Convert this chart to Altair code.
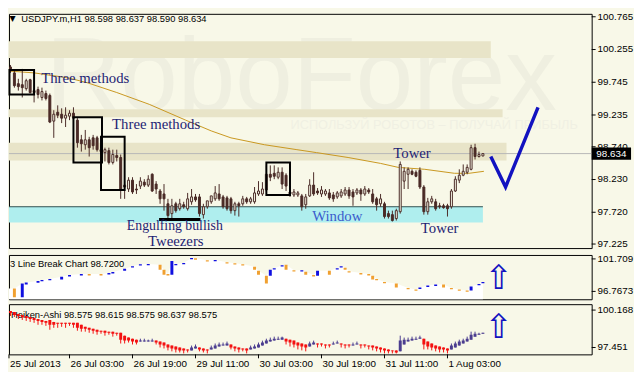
import altair as alt
import pandas as pd

# ---------------- colours ----------------
BG = "#f8f8e8"
CANDLE = "#4a2b27"
GOLD = "#c8961e"
NAVY = "#1e1e74"
WINDOW_BLUE = "#3a5ccc"
KHAKI = "#e8e4c8"
TURQ = "#afeeee"
CHECK_BLUE = "#1212c0"
UP_BRICK = "#1010e0"
DOWN_BRICK = "#f0a030"
HA_BLUE = "#4b3d8f"
HA_RED = "#f41010"
WM_COLOR = "#efefe0"
WM_SUB_COLOR = "#f0f0e3"
SANS = "Liberation Sans"
SERIF = "Liberation Serif"

# ---------------- main panel: USDJPY H1 candles ----------------
BAR = list(range(122))
OPEN = [100.014, 99.983, 99.891, 99.723, 99.707, 99.646, 99.784, 99.615, 99.631, 99.508,
        99.569, 99.539, 99.140, 99.278, 99.247, 99.186, 99.217, 99.263, 99.155, 98.849,
        98.772, 98.849, 98.879, 98.879, 98.665, 98.649, 98.680, 98.496, 98.603, 98.573,
        98.113, 98.082, 98.220, 98.082, 98.128, 98.189, 98.143, 98.312, 98.159, 98.051,
        98.005, 97.852, 97.699, 97.852, 97.775, 97.837, 97.775, 97.883, 97.959, 97.959,
        97.683, 97.806, 97.883, 97.929, 98.005, 97.959, 97.944, 97.929, 97.745, 97.852,
        97.852, 97.929, 97.883, 97.883, 98.005, 98.005, 98.067, 98.312, 98.327, 98.266,
        98.343, 98.297, 98.036, 97.990, 97.990, 97.975, 97.837, 97.975, 98.143, 98.051,
        98.005, 98.005, 98.021, 97.990, 97.959, 97.975, 98.005, 98.067, 98.036, 98.021,
        98.067, 98.005, 98.067, 98.005, 97.929, 97.852, 97.852, 97.699, 97.683, 97.622,
        97.729, 98.205, 98.312, 98.358, 98.343, 98.373, 98.113, 97.729, 97.883, 97.883,
        97.821, 97.821, 97.821, 97.806, 98.051, 98.220, 98.297, 98.343, 98.389, 98.726,
        98.588, 98.598]
HIGH = [100.045, 100.014, 99.922, 99.799, 99.953, 99.799, 99.799, 99.646, 99.677, 99.661,
        99.615, 99.569, 99.309, 99.385, 99.339, 99.355, 99.309, 99.355, 99.186, 98.925,
        99.002, 98.895, 98.925, 98.910, 98.772, 98.726, 98.726, 98.695, 98.695, 98.619,
        98.205, 98.266, 98.266, 98.159, 98.266, 98.235, 98.297, 98.327, 98.205, 98.082,
        98.159, 97.929, 97.929, 97.883, 97.929, 97.883, 98.021, 98.082, 98.005, 98.005,
        97.852, 97.867, 97.959, 98.128, 98.159, 97.990, 97.975, 97.959, 97.883, 97.883,
        97.975, 97.959, 97.959, 98.113, 98.205, 98.189, 98.450, 98.450, 98.450, 98.419,
        98.419, 98.327, 98.128, 98.082, 98.051, 98.005, 98.005, 98.235, 98.343, 98.097,
        98.128, 98.082, 98.082, 98.036, 98.051, 98.082, 98.113, 98.113, 98.082, 98.097,
        98.097, 98.128, 98.097, 98.082, 97.959, 98.005, 97.883, 97.745, 97.745, 97.775,
        98.511, 98.419, 98.419, 98.389, 98.373, 98.419, 98.143, 97.944, 97.975, 97.929,
        97.867, 97.852, 97.852, 98.082, 98.281, 98.389, 98.465, 98.465, 98.772, 98.787,
        98.665, 98.637]
LOW = [99.891, 99.891, 99.661, 99.615, 99.508, 99.615, 99.569, 99.431, 99.493, 99.462,
       99.462, 99.109, 98.879, 99.186, 99.109, 99.048, 99.155, 99.155, 98.726, 98.665,
       98.695, 98.588, 98.695, 98.665, 98.619, 98.511, 98.465, 98.465, 98.511, 97.929,
       97.929, 98.036, 98.005, 98.005, 98.082, 98.113, 98.113, 98.036, 98.005, 97.852,
       97.745, 97.622, 97.622, 97.714, 97.745, 97.775, 97.745, 97.837, 97.883, 97.653,
       97.622, 97.775, 97.852, 97.898, 97.898, 97.775, 97.745, 97.699, 97.668, 97.653,
       97.821, 97.852, 97.852, 97.852, 97.975, 97.975, 98.036, 98.205, 98.235, 98.235,
       98.082, 98.051, 97.959, 97.959, 97.959, 97.745, 97.775, 97.959, 97.975, 97.990,
       97.959, 97.975, 97.913, 97.883, 97.929, 97.944, 97.975, 97.929, 97.821, 97.990,
       97.898, 97.975, 98.005, 97.852, 97.745, 97.806, 97.622, 97.622, 97.576, 97.591,
       97.699, 98.082, 98.082, 98.297, 98.266, 98.082, 97.683, 97.683, 97.852, 97.745,
       97.775, 97.775, 97.653, 97.775, 98.036, 98.174, 98.281, 98.312, 98.373, 98.542,
       98.573, 98.590]
CLOSE = [99.922, 99.922, 99.692, 99.677, 99.661, 99.769, 99.585, 99.585, 99.554, 99.600,
         99.493, 99.125, 99.247, 99.232, 99.186, 99.232, 99.263, 99.186, 98.803, 98.787,
         98.849, 98.726, 98.757, 98.695, 98.695, 98.695, 98.496, 98.619, 98.573, 98.082,
         98.143, 98.220, 98.036, 98.067, 98.205, 98.143, 98.235, 98.051, 98.082, 97.929,
         97.929, 97.668, 97.821, 97.745, 97.852, 97.806, 97.929, 97.959, 97.913, 97.699,
         97.806, 97.898, 97.975, 98.021, 97.929, 97.806, 97.775, 97.745, 97.852, 97.821,
         97.929, 97.883, 97.929, 98.021, 98.051, 98.082, 98.312, 98.266, 98.281, 98.343,
         98.159, 98.128, 98.005, 98.036, 98.021, 97.806, 97.959, 98.143, 98.005, 98.021,
         98.067, 98.051, 97.944, 97.929, 98.021, 98.036, 98.067, 97.975, 97.959, 98.067,
         98.005, 98.082, 98.036, 97.883, 97.837, 97.929, 97.653, 97.653, 97.591, 97.745,
         98.465, 98.358, 98.389, 98.312, 98.281, 98.113, 97.729, 97.883, 97.929, 97.775,
         97.806, 97.791, 97.775, 98.051, 98.235, 98.297, 98.358, 98.419, 98.726, 98.588,
         98.619, 98.634]

MA_BAR = [0, 7, 15.5, 20.5, 28, 36.25, 45.5, 52, 57, 65.5, 73.75, 78.75, 86.75, 95, 99.5,
          106.25, 113.75, 117.5, 121.25]
MA_VALUE = [99.922, 99.891, 99.815, 99.738, 99.585, 99.401, 99.155, 98.987, 98.879, 98.772,
            98.695, 98.649, 98.573, 98.481, 98.419, 98.389, 98.327, 98.327, 98.358]

Y_TICKS = [97.225, 97.72, 98.23, 98.74, 99.235, 99.745, 100.255, 100.765]
LAST_PRICE = 98.634
TAG_HALF = 0.095

# resistance / support zones
BAND_X0 = [-0.625, -0.625, -0.625]
BAND_X1 = [123.0, 126.0, 127.0]
BAND_LO = [100.121, 99.201, 98.527]
BAND_HI = [100.382, 99.324, 98.803]
WINDOW_X0 = [-0.625]
WINDOW_X1 = [121.0]
WINDOW_LO = [97.561]
WINDOW_HI = [97.806]

# pattern boxes
BOX_X0 = [0.75, 17.0, 24.0, 66.0]
BOX_X1 = [7.0, 24.25, 30.0, 72.0]
BOX_LO = [99.554, 98.496, 98.067, 97.990]
BOX_HI = [99.937, 99.201, 98.895, 98.496]
TWEEZER_X0 = [38.75]
TWEEZER_X1 = [49.25]
TWEEZER_P = [97.607]

# forecast check mark
CHECK_BAR = [123.0, 126.75, 135.0]
CHECK_PRICE = [98.588, 98.113, 99.355]

ANN_TEXT = ["Three methods", "Three methods", "Tower", "Window", "Engulfing bullish", "Tweezers", "Tower"]
ANN_BAR = [20.0, 38.0, 103.0, 84.0, 42.75, 43.0, 110.0]
ANN_PRICE = [99.815, 99.086, 98.649, 97.66, 97.499, 97.265, 97.469]
ANN_SIZE = [15, 15, 15, 15, 14, 15, 15]
ANN_COLOR = [NAVY, NAVY, NAVY, WINDOW_BLUE, NAVY, NAVY, NAVY]

MAIN_TITLE = "USDJPY.m,H1  98.598 98.637 98.590 98.634"
WATERMARK = "RoboForex"
WATERMARK_SUB = "ИСПОЛЬЗУЙ РОБОТОВ – ПОЛУЧАЙ ПРИБЫЛЬ"

# ---------------- 3 Line Break panel ----------------
LB_TITLE = "3 Line Break Chart 98.7200"
BRICK_BAR = [0, 2, 4, 5, 8, 9, 11, 14, 16, 19, 21, 24, 26, 27, 30, 32, 34, 36, 39, 40, 41, 42,
             43, 45, 47, 48, 51, 53, 56, 58, 60, 63, 64, 66, 67, 68, 70, 71, 73, 75, 76, 78,
             79, 82, 84, 85, 86, 87, 90, 92, 93, 94, 96, 99, 102, 104, 105, 107, 109, 111,
             113, 115, 117, 118, 120, 121]
BRICK_LOW = [96.62, 95.87, 95.87, 97.82, 98.10, 98.30, 98.45, 98.56, 99.05, 99.20, 99.20,
             99.20, 99.35, 99.50, 99.91, 100.40, 100.70, 100.75, 100.06, 99.31, 99.20, 99.31,
             100.75, 100.90, 101.65, 101.60, 101.30, 101.35, 101.00, 100.85, 100.70, 100.06,
             99.31, 97.96, 99.16, 100.10, 100.55, 100.06, 99.80, 99.80, 99.31, 99.05, 99.16,
             99.31, 100.10, 100.40, 100.06, 99.65, 99.35, 99.20, 98.56, 98.45, 98.00, 97.37,
             97.10, 96.85, 97.15, 97.45, 97.60, 97.37, 97.10, 96.85, 96.70, 96.92, 97.70, 98.00]
BRICK_HIGH = [97.22, 97.22, 97.96, 98.11, 98.35, 98.50, 98.65, 99.01, 99.25, 99.40, 99.40,
              99.40, 99.55, 99.70, 100.21, 100.60, 100.90, 100.95, 100.81, 100.06, 99.40,
              101.41, 100.95, 101.10, 101.85, 101.80, 101.50, 101.55, 101.20, 101.05, 100.90,
              100.51, 99.91, 99.16, 100.06, 100.30, 100.75, 100.81, 100.00, 100.00, 99.76,
              99.25, 99.91, 99.91, 100.30, 100.60, 100.36, 99.85, 99.55, 99.40, 99.16, 98.65,
              98.20, 97.96, 97.30, 97.05, 97.35, 97.65, 97.80, 97.82, 97.30, 97.05, 96.90,
              97.52, 97.90, 98.20]
BRICK_DIR = ["U", "D", "U", "U", "U", "U", "U", "U", "U", "U", "D", "D", "U", "U", "U", "U",
             "U", "U", "D", "D", "D", "U", "U", "U", "U", "D", "D", "U", "D", "D", "D", "D",
             "D", "D", "U", "U", "U", "D", "D", "U", "D", "D", "U", "D", "U", "U", "D", "D",
             "D", "D", "D", "D", "D", "D", "D", "D", "U", "U", "U", "D", "D", "D", "D", "U",
             "U", "U"]
LB_TICKS = [96.7673, 101.7097]
LB_LABELS = ["96.7673", "101.7097"]

# ---------------- Heiken-Ashi panel ----------------
HA_TITLE = "Heiken-Ashi 98.575 98.615 98.575 98.637 98.575"
HA_OPEN = [100.17, 100.10, 100.03, 99.88, 99.81, 99.74, 99.67, 99.60, 99.52, 99.45,
           99.38, 99.45, 99.31, 99.24, 99.24, 99.24, 99.24, 99.24, 99.24, 99.10,
           98.95, 98.88, 98.81, 98.74, 98.67, 98.67, 98.60, 98.60, 98.52, 98.52,
           98.31, 98.17, 98.09, 98.02, 97.88, 97.88, 97.88, 97.88, 97.95, 97.88,
           97.81, 97.67, 97.59, 97.52, 97.45, 97.38, 97.31, 97.24, 97.38, 97.45,
           97.38, 97.31, 97.31, 97.38, 97.52, 97.59, 97.59, 97.67, 97.52, 97.45,
           97.38, 97.38, 97.31, 97.38, 97.45, 97.59, 97.74, 97.88, 97.95, 98.02,
           98.02, 98.09, 98.02, 97.95, 97.81, 97.74, 97.67, 97.52, 97.67, 97.74,
           97.74, 97.67, 97.67, 97.67, 97.74, 97.74, 97.67, 97.67, 97.59, 97.67,
           97.67, 97.67, 97.59, 97.59, 97.52, 97.45, 97.38, 97.31, 97.24, 97.24,
           97.17, 97.67, 97.88, 97.95, 98.02, 98.09, 98.09, 97.88, 97.74, 97.59,
           97.52, 97.45, 97.38, 97.31, 97.45, 97.59, 97.74, 97.88, 98.02, 98.24,
           98.38, 98.45]
HA_CLOSE = [100.03, 99.95, 99.81, 99.74, 99.67, 99.60, 99.52, 99.45, 99.38, 99.31,
            99.24, 99.10, 99.10, 99.17, 99.17, 99.17, 99.17, 99.10, 98.88, 98.81,
            98.81, 98.74, 98.67, 98.60, 98.60, 98.52, 98.52, 98.45, 98.45, 98.02,
            97.95, 97.95, 97.88, 97.81, 97.95, 97.95, 97.95, 97.95, 97.81, 97.67,
            97.59, 97.45, 97.38, 97.31, 97.24, 97.24, 97.24, 97.45, 97.52, 97.31,
            97.24, 97.24, 97.45, 97.59, 97.67, 97.67, 97.74, 97.45, 97.38, 97.31,
            97.31, 97.24, 97.45, 97.52, 97.67, 97.81, 97.95, 98.02, 98.09, 98.09,
            98.17, 97.88, 97.81, 97.67, 97.59, 97.52, 97.45, 97.74, 97.81, 97.67,
            97.67, 97.59, 97.59, 97.74, 97.81, 97.67, 97.59, 97.59, 97.67, 97.74,
            97.59, 97.59, 97.52, 97.45, 97.38, 97.31, 97.24, 97.17, 97.17, 97.09,
            97.95, 98.02, 98.02, 98.09, 98.09, 98.17, 97.67, 97.52, 97.45, 97.38,
            97.31, 97.31, 97.24, 97.59, 97.74, 97.88, 97.95, 98.09, 98.38, 98.45,
            98.45, 98.52]
HA_HIGH = [100.17, 100.10, 100.03, 99.88, 99.81, 99.74, 99.67, 99.60, 99.52, 99.45,
           99.38, 99.45, 99.31, 99.24, 99.24, 99.24, 99.24, 99.24, 99.24, 99.10,
           98.95, 98.88, 98.81, 98.74, 98.67, 98.67, 98.60, 98.60, 98.52, 98.52,
           98.31, 98.17, 98.09, 98.02, 98.09, 98.09, 98.02, 98.09, 97.95, 97.88,
           97.81, 97.67, 97.59, 97.52, 97.45, 97.38, 97.31, 97.59, 97.67, 97.45,
           97.38, 97.31, 97.59, 97.74, 97.81, 97.81, 97.88, 97.67, 97.52, 97.45,
           97.38, 97.38, 97.59, 97.67, 97.81, 97.95, 98.09, 98.17, 98.24, 98.24,
           98.24, 98.09, 98.02, 97.95, 97.81, 97.74, 97.67, 97.88, 97.95, 97.74,
           97.74, 97.67, 97.67, 97.88, 97.95, 97.74, 97.67, 97.67, 97.81, 97.88,
           97.67, 97.67, 97.59, 97.59, 97.52, 97.45, 97.38, 97.31, 97.24, 97.24,
           98.31, 98.17, 98.17, 98.24, 98.24, 98.31, 98.09, 97.88, 97.74, 97.59,
           97.52, 97.45, 97.38, 97.74, 97.88, 98.02, 98.09, 98.24, 98.60, 98.60,
           98.52, 98.52]
HA_LOW = [99.88, 99.74, 99.67, 99.52, 99.45, 99.38, 99.31, 99.24, 99.10, 99.10,
          99.02, 98.74, 98.88, 98.88, 98.95, 98.88, 99.02, 98.88, 98.67, 98.60,
          98.60, 98.52, 98.45, 98.38, 98.45, 98.31, 98.38, 98.24, 98.31, 97.74,
          97.74, 97.81, 97.67, 97.67, 97.88, 97.88, 97.88, 97.88, 97.67, 97.45,
          97.38, 97.24, 97.17, 97.09, 97.09, 97.02, 97.09, 97.24, 97.38, 97.17,
          97.09, 97.02, 97.31, 97.38, 97.52, 97.59, 97.59, 97.31, 97.17, 97.09,
          97.17, 97.02, 97.31, 97.38, 97.45, 97.59, 97.74, 97.88, 97.95, 98.02,
          98.02, 97.67, 97.52, 97.45, 97.31, 97.24, 97.17, 97.52, 97.67, 97.45,
          97.52, 97.38, 97.45, 97.67, 97.74, 97.45, 97.38, 97.45, 97.59, 97.67,
          97.38, 97.45, 97.31, 97.24, 97.17, 97.09, 97.02, 97.02, 97.02, 97.02,
          97.17, 97.67, 97.88, 97.95, 98.02, 98.09, 97.31, 97.31, 97.24, 97.17,
          97.09, 97.09, 97.02, 97.31, 97.45, 97.59, 97.74, 97.88, 98.02, 98.24,
          98.38, 98.45]
HA_TICKS = [97.451, 100.168]
HA_LABELS = ["97.451", "100.168"]

# up arrows in the indicator panels
ARROW_BAR = [125.0]
ARROW_LB = [98.565]
ARROW_HA = [98.88]

# time axis
TICK_BAR = [0, 16, 32, 48, 64, 80, 96, 112]
TICK_LABEL = ["25 Jul 2013", "26 Jul 03:00", "26 Jul 19:00", "29 Jul 11:00",
              "30 Jul 03:00", "30 Jul 19:00", "31 Jul 11:00", "1 Aug 03:00"]

# ---------------- scales ----------------
W = 592
X_MIN = 0.625
XS = alt.Scale(domain=[X_MIN, 148.625], nice=False, zero=False, padding=0)
Y1S = alt.Scale(domain=[97.162, 100.811], nice=False, zero=False, padding=0)
Y2S = alt.Scale(domain=[95.57, 102.31], nice=False, zero=False, padding=0)
Y3S = alt.Scale(domain=[96.95, 100.597], nice=False, zero=False, padding=0)


def xq(f):
    return alt.X(f, type="quantitative", scale=XS, axis=None)


def y1(f):
    return alt.Y(f, type="quantitative", scale=Y1S, axis=None)


def y2(f):
    return alt.Y(f, type="quantitative", scale=Y2S, axis=None)


def y3(f):
    return alt.Y(f, type="quantitative", scale=Y3S, axis=None)


def right_ticks(values, yfun):
    return alt.Chart(pd.DataFrame({"v": values})).mark_rule(color="black").encode(
        x=alt.value(592), x2=alt.value(596), y=yfun("v"))


def right_labels(values, labels, yfun, **kw):
    return alt.Chart(pd.DataFrame({"v": values, "t": labels})).mark_text(
        font=SANS, fontSize=10, color="black", align="left", baseline="middle", **kw).encode(
        x=alt.value(598), y=yfun("v"), text="t:N")


candles = pd.DataFrame({"i": BAR, "o": OPEN, "h": HIGH, "l": LOW, "c": CLOSE})
candles["fillc"] = [BG if c >= o else CANDLE for o, c in zip(OPEN, CLOSE)]

# ---------------- panel 1 ----------------
wm = alt.Chart(pd.DataFrame({"t": [WATERMARK]})).mark_text(
    font=SANS, fontSize=105, color=WM_COLOR, align="center", baseline="middle"
).encode(x=alt.value(297), y=alt.value(66), text="t:N")
wm2 = alt.Chart(pd.DataFrame({"t": [WATERMARK_SUB]})).mark_text(
    font=SANS, fontSize=13, color=WM_SUB_COLOR, align="center", baseline="middle"
).encode(x=alt.value(432), y=alt.value(113), text="t:N")

bands = alt.Chart(pd.DataFrame({"x0": BAND_X0, "x1": BAND_X1, "lo": BAND_LO, "hi": BAND_HI})).mark_rect(
    color=KHAKI, clip=True).encode(x=xq("x0"), x2="x1", y=y1("lo"), y2="hi")
price_line = alt.Chart(pd.DataFrame({"p": [LAST_PRICE]})).mark_rule(color="#b8b8b8").encode(y=y1("p"))
win_df = pd.DataFrame({"x0": WINDOW_X0, "x1": WINDOW_X1, "lo": WINDOW_LO, "hi": WINDOW_HI})
window = alt.Chart(win_df).mark_rect(color=TURQ, clip=True).encode(x=xq("x0"), x2="x1", y=y1("lo"), y2="hi")
window_line = alt.Chart(win_df).mark_rule(color="#2f4f4f", strokeWidth=1, clip=True).encode(
    x=xq("x0"), x2="x1", y=y1("hi"))

ma = alt.Chart(pd.DataFrame({"i": MA_BAR, "v": MA_VALUE})).mark_line(color=GOLD, strokeWidth=1, clip=True).encode(
    x=xq("i"), y=y1("v"))

wicks = alt.Chart(candles).mark_rule(color=CANDLE, strokeWidth=1, clip=True).encode(
    x=xq("i"), y=y1("l"), y2="h")
bodies = alt.Chart(candles).mark_bar(size=2, stroke=CANDLE, strokeWidth=1, clip=True).encode(
    x=xq("i"), y=y1("o"), y2="c", fill=alt.Fill("fillc:N", scale=None))

boxes = alt.Chart(pd.DataFrame({"x0": BOX_X0, "x1": BOX_X1, "lo": BOX_LO, "hi": BOX_HI})).mark_rect(
    fillOpacity=0, stroke="black", strokeWidth=2).encode(x=xq("x0"), x2="x1", y=y1("lo"), y2="hi")
tweezer = alt.Chart(pd.DataFrame({"x0": TWEEZER_X0, "x1": TWEEZER_X1, "p": TWEEZER_P})).mark_rule(
    color="black", strokeWidth=3).encode(x=xq("x0"), x2="x1", y=y1("p"))
check = alt.Chart(pd.DataFrame({"i": CHECK_BAR, "p": CHECK_PRICE, "k": [0, 1, 2]})).mark_line(
    color=CHECK_BLUE, strokeWidth=3.5).encode(x=xq("i"), y=y1("p"), order="k:O")

ann = alt.Chart(pd.DataFrame({"t": ANN_TEXT, "i": ANN_BAR, "p": ANN_PRICE, "fs": ANN_SIZE, "col": ANN_COLOR})).mark_text(
    font=SERIF, align="center", baseline="middle").encode(
    x=xq("i"), y=y1("p"), text="t:N", size=alt.Size("fs:Q", scale=None),
    color=alt.Color("col:N", scale=None))

tri = alt.Chart(pd.DataFrame({"t": ["▼"]})).mark_text(
    font="DejaVu Sans", fontSize=8, color="black", align="center", baseline="middle").encode(
    x=alt.value(3.5), y=alt.value(5), text="t:N")
title1 = alt.Chart(pd.DataFrame({"t": [MAIN_TITLE]})).mark_text(
    font=SANS, fontSize=9.5, color="black", align="left", baseline="middle").encode(
    x=alt.value(12.5), y=alt.value(5), text="t:N")

p1_ticks = right_ticks(Y_TICKS, y1)
p1_labels = right_labels(Y_TICKS, [f"{v:.3f}" for v in Y_TICKS], y1)

tag_df = pd.DataFrame({"p": [LAST_PRICE], "top": [LAST_PRICE + TAG_HALF], "bot": [LAST_PRICE - TAG_HALF],
                       "t": [f"{LAST_PRICE:.3f}"]})
tag_rect = alt.Chart(tag_df).mark_rect(color="black").encode(
    x=alt.value(592), x2=alt.value(632), y=y1("top"), y2="bot")
tag_text = alt.Chart(tag_df).mark_text(font=SANS, fontSize=10, color="white", align="center", baseline="middle").encode(
    x=alt.value(612), y=y1("p"), text="t:N")

panel1 = alt.layer(wm, wm2, bands, price_line, window, window_line, ma, wicks, bodies, boxes, tweezer,
                   check, ann, tri, title1, p1_ticks, p1_labels, tag_rect, tag_text).properties(width=W, height=238)

# ---------------- panel 2 ----------------
bricks = pd.DataFrame({"i": BRICK_BAR, "lo": BRICK_LOW, "hi": BRICK_HIGH, "dir": BRICK_DIR})
bricks["col"] = [UP_BRICK if d == "U" else DOWN_BRICK for d in BRICK_DIR]
lb_area = alt.Chart(bricks).mark_area(color="white", interpolate="linear", clip=True).encode(
    x=xq("i"), y=y2("hi"), y2=alt.value(45))
lb_bricks = alt.Chart(bricks).mark_bar(size=3, clip=True).encode(
    x=xq("i"), y=y2("lo"), y2="hi", color=alt.Color("col:N", scale=None))
lb_title = alt.Chart(pd.DataFrame({"t": [LB_TITLE]})).mark_text(
    font=SANS, fontSize=9.5, color="black", align="left", baseline="middle").encode(
    x=alt.value(1), y=alt.value(9), text="t:N")
lb_ticks = right_ticks(LB_TICKS, y2)
lb_labels = right_labels(LB_TICKS, LB_LABELS, y2, limit=37, ellipsis="\u200b")
lb_arrow = alt.Chart(pd.DataFrame({"i": ARROW_BAR, "p": ARROW_LB, "t": ["⇧"]})).mark_text(
    font="DejaVu Sans", fontSize=34, color=CHECK_BLUE, align="center", baseline="middle").encode(
    x=xq("i"), y=y2("p"), text="t:N")
panel2 = alt.layer(lb_area, lb_title, lb_bricks, lb_ticks, lb_labels, lb_arrow).properties(width=W, height=45)

# ---------------- panel 3 ----------------
ha = pd.DataFrame({"i": BAR, "o": HA_OPEN, "c": HA_CLOSE, "h": HA_HIGH, "l": HA_LOW})
ha["col"] = [HA_BLUE if c > o else HA_RED for o, c in zip(HA_OPEN, HA_CLOSE)]
ha_title = alt.Chart(pd.DataFrame({"t": [HA_TITLE]})).mark_text(
    font=SANS, fontSize=9.5, color="black", align="left", baseline="middle").encode(
    x=alt.value(2), y=alt.value(11), text="t:N")
ha_wick = alt.Chart(ha).mark_rule(strokeWidth=1, clip=True).encode(
    x=xq("i"), y=y3("l"), y2="h", color=alt.Color("col:N", scale=None))
ha_body = alt.Chart(ha).mark_bar(size=3, clip=True).encode(
    x=xq("i"), y=y3("o"), y2="c", color=alt.Color("col:N", scale=None))
ha_arrow = alt.Chart(pd.DataFrame({"i": ARROW_BAR, "p": ARROW_HA, "t": ["⇧"]})).mark_text(
    font="DejaVu Sans", fontSize=34, color=CHECK_BLUE, align="center", baseline="middle").encode(
    x=xq("i"), y=y3("p"), text="t:N")
ha_ticks = right_ticks(HA_TICKS, y3)
ha_labels = right_labels(HA_TICKS, HA_LABELS, y3)

# time axis under the last panel (first tick sits on the left frame)
time_df = pd.DataFrame({"b": [max(b, X_MIN) for b in TICK_BAR], "t": TICK_LABEL})
time_ticks = alt.Chart(time_df).mark_rule(color="black").encode(
    x=xq("b"), y=alt.value(51), y2=alt.value(55))
time_labels = alt.Chart(time_df).mark_text(
    font=SANS, fontSize=10, color="black", align="left", baseline="top", dx=1).encode(
    x=xq("b"), y=alt.value(56), text="t:N")

panel3 = alt.layer(ha_title, ha_wick, ha_body, ha_arrow, ha_ticks, ha_labels,
                   time_ticks, time_labels).properties(width=W, height=51)

chart = alt.vconcat(panel1, panel2, panel3, spacing=3).properties(
    padding=0, background=BG
).configure_view(stroke="black", strokeWidth=1)

chart.save("out.html", embed_options={"renderer": "svg", "actions": False})
